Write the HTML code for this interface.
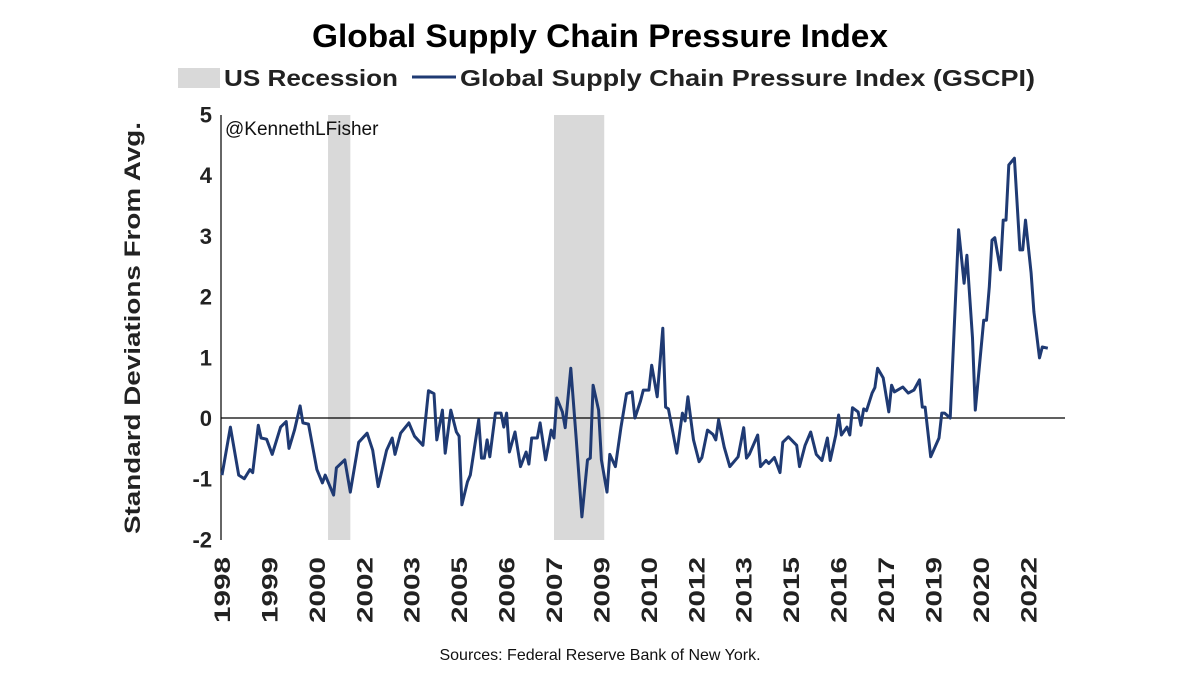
<!DOCTYPE html>
<html><head><meta charset="utf-8"><style>
body{margin:0;background:#fff;}
svg text{font-family:"Liberation Sans",sans-serif;}
</style></head><body>
<svg id="chart" width="1200" height="675" viewBox="0 0 1200 675" xmlns="http://www.w3.org/2000/svg">
<rect width="1200" height="675" fill="#fff"/>
<text x="600" y="47" text-anchor="middle" font-size="32" font-weight="bold" fill="#000" textLength="576" lengthAdjust="spacingAndGlyphs">Global Supply Chain Pressure Index</text>
<g>
<rect x="178" y="68" width="42" height="20" fill="#d9d9d9"/>
<text x="224" y="86" font-size="23" font-weight="bold" fill="#222" textLength="174" lengthAdjust="spacingAndGlyphs">US Recession</text>
<line x1="412" y1="77" x2="456" y2="77" stroke="#1f3a73" stroke-width="3"/>
<text x="460" y="86" font-size="23" font-weight="bold" fill="#222" textLength="575" lengthAdjust="spacingAndGlyphs">Global Supply Chain Pressure Index (GSCPI)</text>
</g>
<text transform="translate(140,328) rotate(-90)" text-anchor="middle" font-size="22" font-weight="bold" fill="#222" textLength="412" lengthAdjust="spacingAndGlyphs">Standard Deviations From Avg.</text>
<g id="rec"></g>
<g id="yt"></g>
<g id="xt"></g>
<line x1="221" y1="115" x2="221" y2="540" stroke="#000" stroke-width="1.2"/>
<line x1="221" y1="418" x2="1065" y2="418" stroke="#000" stroke-width="1.2"/>
<path id="line" fill="none" stroke="#1f3a73" stroke-width="3" stroke-linejoin="round"/>
<text x="225" y="135" font-size="19" fill="#111">@KennethLFisher</text>
<text x="600" y="660" text-anchor="middle" font-size="16" fill="#111">Sources: Federal Reserve Bank of New York.</text>
</svg>
<script>
const months=[0,3,6,8,10,11,13,14,16,18,21,23,24,26,28,29,31,34,36,37,40,41,44,46,49,52,54,56,59,61,62,64,67,69,72,74,76,77,79,80,82,84,85,86,88,89,92,93,94,95,96,98,100,101,102,103,105,107,109,110,111,113,114,116,118,119,120,122,123,125,127,129,131,132,133,135,136,138,139,141,143,145,147,148,150,151,153,154,156,158,159,160,163,165,166,167,169,171,172,174,176,177,178,180,182,185,187,188,189,192,193,195,196,198,200,201,203,206,207,209,211,213,215,217,218,220,221,222,224,225,226,228,229,230,231,233,234,235,237,239,240,241,244,246,248,250,251,252,254,257,258,259,261,264,266,267,269,270,273,274,275,276,277,279,280,281,282,284,286,287,288,290,291,293,294,296];
const values=[-0.94,-0.15,-0.94,-1.0,-0.85,-0.9,-0.12,-0.33,-0.35,-0.6,-0.15,-0.06,-0.5,-0.2,0.2,-0.08,-0.1,-0.85,-1.07,-0.94,-1.27,-0.82,-0.69,-1.22,-0.4,-0.25,-0.53,-1.13,-0.53,-0.33,-0.6,-0.25,-0.08,-0.3,-0.45,0.45,0.4,-0.36,0.13,-0.58,0.13,-0.23,-0.3,-1.43,-1.05,-0.94,-0.03,-0.66,-0.66,-0.36,-0.64,0.08,0.08,-0.15,0.08,-0.56,-0.23,-0.8,-0.56,-0.76,-0.33,-0.33,-0.08,-0.69,-0.2,-0.33,0.33,0.1,-0.16,0.82,-0.36,-1.63,-0.69,-0.66,0.54,0.13,-0.69,-1.22,-0.6,-0.8,-0.15,0.4,0.43,0,0.28,0.46,0.46,0.87,0.35,1.48,0.18,0.15,-0.58,0.08,-0.05,0.35,-0.36,-0.72,-0.65,-0.2,-0.27,-0.36,-0.03,-0.48,-0.8,-0.64,-0.16,-0.66,-0.6,-0.28,-0.8,-0.7,-0.75,-0.65,-0.9,-0.4,-0.31,-0.45,-0.8,-0.45,-0.23,-0.6,-0.7,-0.33,-0.7,-0.28,0.05,-0.28,-0.15,-0.28,0.17,0.1,-0.12,0.15,0.12,0.41,0.5,0.82,0.66,0.1,0.54,0.43,0.51,0.41,0.46,0.63,0.18,0.18,-0.64,-0.33,0.08,0.08,0,3.1,2.22,2.68,1.32,0.13,1.61,1.61,2.16,2.93,2.97,2.44,3.26,3.26,4.17,4.28,2.77,2.77,3.26,2.39,1.75,0.99,1.17,1.15];
const yTicks=[5,4,3,2,1,0,-1,-2];
const xLabels=["1998","1999","2000","2002","2003","2005","2006","2007","2009","2010","2012","2013","2015","2016","2017","2019","2020","2022"];
const xLabelMonths=[0,17,34,51,68,85,102,119,136,153,170,187,204,221,238,255,272,289];
const recStart=[38,119];
const recEnd=[46,137];

const NS="http://www.w3.org/2000/svg";
function x(m){return 222+m*2.79;}
function y(v){return 418-v*60.7;}
const rec=document.getElementById('rec');
recStart.forEach((s,i)=>{
  const r=document.createElementNS(NS,'rect');
  
  
  r.setAttribute('x',x(s));r.setAttribute('width',x(recEnd[i])-x(s));
  r.setAttribute('y',115);r.setAttribute('height',425);r.setAttribute('fill','#d9d9d9');
  rec.appendChild(r);
});
const yt=document.getElementById('yt');
yTicks.forEach(v=>{
  const t=document.createElementNS(NS,'text');
  
  
  t.setAttribute('x',212);t.setAttribute('y',y(v)+8);t.setAttribute('text-anchor','end');
  t.setAttribute('font-size','22');t.setAttribute('font-weight','bold');t.setAttribute('fill','#222');
  t.textContent=v;yt.appendChild(t);
});
const xt=document.getElementById('xt');
xLabels.forEach((l,i)=>{
  const t=document.createElementNS(NS,'text');
  
  
  const px=x(xLabelMonths[i])+8;
  t.setAttribute('transform','translate('+px+',557) rotate(-90)');
  t.setAttribute('text-anchor','end');
  t.setAttribute('font-size','22');t.setAttribute('font-weight','bold');t.setAttribute('fill','#222');
  t.setAttribute('textLength','66');t.setAttribute('lengthAdjust','spacingAndGlyphs');
  t.textContent=l;xt.appendChild(t);
});
let d='';
months.forEach((m,i)=>{d+=(i?'L':'M')+x(m).toFixed(1)+','+y(values[i]).toFixed(1);});
document.getElementById('line').setAttribute('d',d);
</script>
</body></html>
